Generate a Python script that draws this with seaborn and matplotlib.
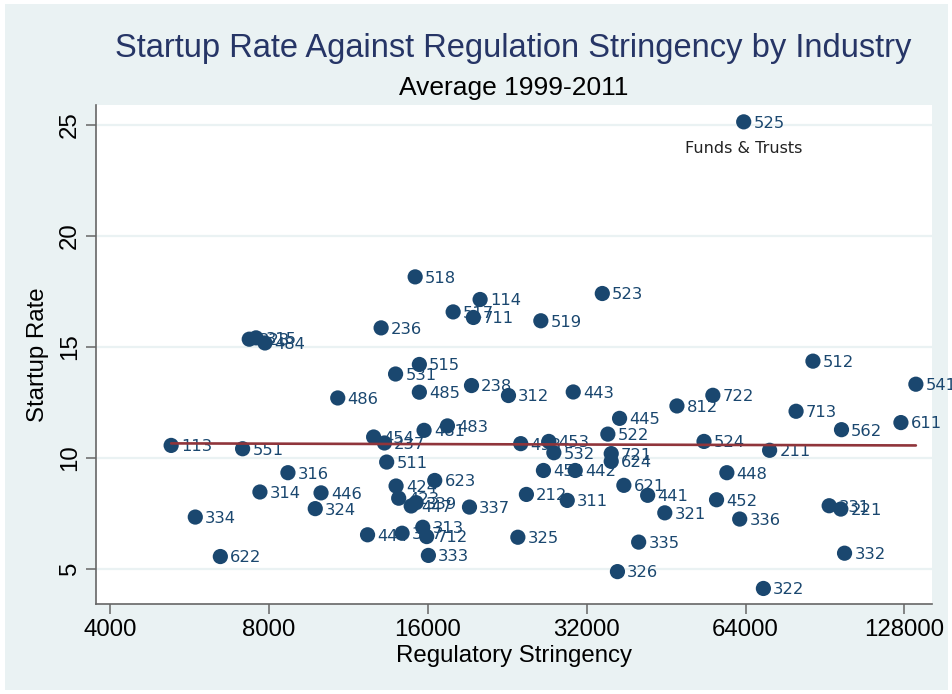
import matplotlib
matplotlib.use("Agg")
import matplotlib.pyplot as plt
from matplotlib.patches import Rectangle
import numpy as np
import pandas as pd
import seaborn as sns

# NAICS 3-digit industry codes
codes = ['113', '114', '211', '212', '221', '236', '237', '238', '311', '312',
         '313', '314', '323', '315', '316', '321', '322', '324', '325', '326',
         '327', '331', '332', '333', '334', '335', '336', '337', '339', '423',
         '424', '441', '442', '443', '444', '445', '446', '447', '448', '451',
         '452', '493', '453', '454', '481', '483', '484', '485', '486', '511',
         '512', '515', '517', '518', '519', '522', '523', '524', '525', '531',
         '532', '541', '551', '562', '611', '621', '622', '623', '624', '711',
         '712', '713', '721', '722', '812']

# regulatory stringency (x)
stringency = [5220, 20100, 71100, 24600, 97000, 13050, 13240, 19360, 29400, 22750,
              15650, 7690, 7340, 7560, 8690, 45000, 69200, 9790, 23700, 36600,
              14300, 92200, 98600, 16040, 5800, 40150, 62400, 19190, 15200, 14090,
              13930, 41760, 30440, 30180, 12300, 36940, 10040, 14880, 59000, 26500,
              56400, 24000, 27130, 12630, 15740, 17430, 7860, 15420, 10800, 13370,
              85900, 15420, 17870, 15140, 26200, 35100, 34260, 53400, 63500, 13900,
              27730, 134600, 7130, 97300, 126100, 37640, 6470, 16490, 35620, 19520,
              15920, 79800, 35620, 55500, 47450]

# average startup rate 1999-2011 (y)
startup = [10.55, 17.13, 10.33, 8.34, 7.68, 15.85, 10.66, 13.25, 8.07, 12.80,
           6.86, 8.45, 15.34, 15.40, 9.32, 7.51, 4.10, 7.70, 6.41, 4.86,
           6.59, 7.83, 5.69, 5.59, 7.32, 6.19, 7.23, 7.77, 7.97, 8.17,
           8.72, 8.30, 9.42, 12.96, 6.52, 11.77, 8.41, 7.82, 9.32, 9.42,
           8.10, 10.63, 10.73, 10.93, 11.23, 11.43, 15.17, 12.95, 12.69, 9.80,
           14.35, 14.20, 16.57, 18.15, 16.17, 11.06, 17.40, 10.73, 25.14, 13.77,
           10.22, 13.31, 10.40, 11.26, 11.58, 8.75, 5.54, 8.97, 9.83, 16.32,
           6.44, 12.09, 10.18, 12.81, 12.33]

x_ticks = [4000, 8000, 16000, 32000, 64000, 128000]
y_ticks = [5, 10, 15, 20, 25]

df = pd.DataFrame({'code': codes, 'stringency': stringency, 'startup': startup})

navy = '#1A476F'
maroon = '#90353B'
light = '#EAF2F3'

sns.set_style('ticks')
plt.rcParams['font.family'] = ['Liberation Sans', 'DejaVu Sans']

fig = plt.figure(figsize=(9.52, 6.94), dpi=100)
fig.patch.set_facecolor('white')
fig.patches.append(Rectangle((5 / 952, 4 / 694), 943 / 952, 686 / 694,
                             transform=fig.transFigure, facecolor=light,
                             edgecolor='none', zorder=-10))

ax = fig.add_axes([0.1008, 0.1297, 0.878, 0.719])
ax.set_facecolor('white')

sns.scatterplot(data=df, x='stringency', y='startup', s=120, color=navy,
                edgecolor='none', linewidth=0, ax=ax, zorder=3)

# point labels
for c, xv, yv in zip(codes, stringency, startup):
    ax.annotate(c, (xv, yv), xytext=(7, -1), textcoords='offset points',
                ha='left', va='center', fontsize=11.8, color=navy,
                family='DejaVu Sans', zorder=3)

# call out the outlier
i = codes.index('525')
ax.annotate('Funds & Trusts', (stringency[i], startup[i]), xytext=(0, -19),
            textcoords='offset points', ha='center', va='center',
            fontsize=11.5, color='#222222', family='DejaVu Sans')

# fitted line
sns.regplot(data=df, x='stringency', y='startup', logx=True, scatter=False,
            ci=None, color=maroon, line_kws=dict(lw=1.9, zorder=5), ax=ax)

ax.set_xscale('log', base=2)
ax.set_xlim(3760, 144300)
ax.set_ylim(3.4, 25.9)
ax.set_xticks(x_ticks)
ax.set_xticklabels([str(t) for t in x_ticks])
ax.xaxis.set_minor_locator(matplotlib.ticker.NullLocator())
ax.set_yticks(y_ticks)
ax.set_yticklabels([str(t) for t in y_ticks], rotation=90, va='center')

ax.yaxis.grid(True, color=light, lw=1.6)
ax.xaxis.grid(False)
ax.set_axisbelow(True)

for s in ['top', 'right']:
    ax.spines[s].set_visible(False)
for s in ['left', 'bottom']:
    ax.spines[s].set_color('#666666')
    ax.spines[s].set_linewidth(1.2)
ax.tick_params(axis='both', length=7, width=1.1, color='#666666',
               labelsize=17.3, labelcolor='black', pad=4)

ax.set_xlabel('Regulatory Stringency', fontsize=17.3, color='black', labelpad=3)
ax.set_ylabel('Startup Rate', fontsize=17.3, color='black', labelpad=7)

fig.text(0.5394, 0.930, 'Startup Rate Against Regulation Stringency by Industry',
         ha='center', va='center', fontsize=23.5, color='#263566')
fig.text(0.5394, 0.873, 'Average 1999-2011', ha='center', va='center',
         fontsize=19, color='black')

fig.savefig('out.png', dpi=100, facecolor=fig.get_facecolor())
